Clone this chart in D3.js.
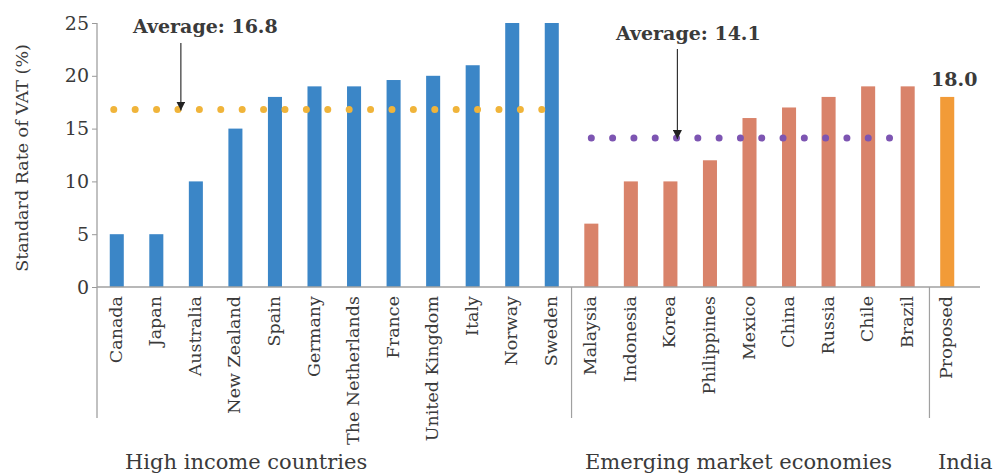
<!DOCTYPE html>
<html>
<head>
<meta charset="utf-8">
<script src="https://cdn.jsdelivr.net/npm/d3@7/dist/d3.min.js"></script>
<style>
  html, body { margin: 0; padding: 0; background: #fff; }
  svg { display: block; }
  text { font-family: "DejaVu Serif", "Liberation Serif", serif; fill: #3a3a3a; }
</style>
</head>
<body>
<svg id="chart" width="1000" height="475"></svg>
<script>
// Standard VAT rates (%) by country group
const highIncome = ["Canada", "Japan", "Australia", "New Zealand", "Spain", "Germany",
  "The Netherlands", "France", "United Kingdom", "Italy", "Norway", "Sweden"];
const highIncomeRates = [5, 5, 10, 15, 18, 19, 19, 19.6, 20, 21, 25, 25];

const emerging = ["Malaysia", "Indonesia", "Korea", "Philippines", "Mexico", "China",
  "Russia", "Chile", "Brazil"];
const emergingRates = [6, 10, 10, 12, 16, 17, 18, 19, 19];

const india = ["Proposed"];
const indiaRates = [18.0];

const groupNames = ["High income countries", "Emerging market economies", "India"];
const averages = [16.8, 14.1];
const yTicks = [0, 5, 10, 15, 20, 25];

const colors = { high: "#3b86c7", emerging: "#d9836a", india: "#f29b38",
  avgHigh: "#f0b43a", avgEmerging: "#7d55b2" };

const rows = [
  ...highIncome.map((c, i) => ({ cat: c, value: highIncomeRates[i], group: "high" })),
  ...emerging.map((c, i) => ({ cat: c, value: emergingRates[i], group: "emerging" })),
  ...india.map((c, i) => ({ cat: c, value: indiaRates[i], group: "india" }))
];

const svg = d3.select("#chart");
const plotLeft = 97, plotRight = 967, plotTop = 23, plotBottom = 287;

const x = d3.scaleBand().domain(rows.map(d => d.cat)).range([plotLeft, plotRight])
  .paddingInner(0.645).paddingOuter(0.3225);
const y = d3.scaleLinear().domain([0, 25]).range([plotBottom, plotTop]);
const bw = x.bandwidth();
const cx = c => x(c) + bw / 2;

// Bars
svg.append("g").selectAll("rect").data(rows).join("rect")
  .attr("x", d => x(d.cat)).attr("width", bw)
  .attr("y", d => y(d.value)).attr("height", d => y(0) - y(d.value))
  .attr("fill", d => colors[d.group]);

// Y axis
const yAxis = svg.append("g").attr("transform", `translate(${plotLeft},0)`)
  .call(d3.axisLeft(y).tickValues(yTicks).tickSize(5).tickPadding(3));
yAxis.select(".domain").remove();
yAxis.selectAll(".tick line").attr("stroke", "#999");
yAxis.selectAll(".tick text").attr("font-family", "DejaVu Serif").attr("font-size", 19)
  .attr("fill", "#444");

const axisColor = "#a0a0a0";
// vertical axis line continues down as the first group divider
svg.append("line").attr("x1", plotLeft).attr("x2", plotLeft).attr("y1", y(25)).attr("y2", 418)
  .attr("stroke", axisColor).attr("stroke-width", 1.3);
// baseline
svg.append("line").attr("x1", plotLeft).attr("x2", 980).attr("y1", y(0)).attr("y2", y(0))
  .attr("stroke", axisColor).attr("stroke-width", 1.3);

// Group dividers
const dividers = [
  (cx("Sweden") + cx("Malaysia")) / 2,
  (cx("Brazil") + cx("Proposed")) / 2 + 2
];
svg.append("g").selectAll("line").data(dividers).join("line")
  .attr("x1", d => d).attr("x2", d => d).attr("y1", y(0)).attr("y2", 418)
  .attr("stroke", axisColor).attr("stroke-width", 1.2);

// Category labels
svg.append("g").selectAll("text").data(rows).join("text")
  .attr("transform", d => `translate(${cx(d.cat) + 5},${y(0) + 9}) rotate(-90)`)
  .attr("text-anchor", "end")
  .attr("font-size", 17.5)
  .attr("fill", "#3c3c3c")
  .text(d => d.cat);

// Group labels
const groupLabelX = [125, 585, 938];
svg.append("g").selectAll("text").data(groupNames).join("text")
  .attr("x", (d, i) => groupLabelX[i]).attr("y", 469)
  .attr("font-size", 21).attr("fill", "#3c3c3c")
  .text(d => d);

// Y axis title
svg.append("text")
  .attr("transform", `translate(28,${(y(25) + y(0)) / 2 + 3}) rotate(-90)`)
  .attr("text-anchor", "middle").attr("font-size", 17.5).attr("fill", "#555")
  .text("Standard Rate of VAT (%)");

// Average dotted lines
const avgLines = [
  { value: averages[0], x1: cx("Canada") - 3, x2: cx("Sweden") - 6, color: colors.avgHigh, gap: 21.4 },
  { value: averages[1], x1: cx("Malaysia"), x2: cx("Brazil") - 18, color: colors.avgEmerging, gap: 21.3 }
];
svg.append("g").selectAll("line").data(avgLines).join("line")
  .attr("x1", d => d.x1).attr("x2", d => d.x2 + 0.5)
  .attr("y1", d => y(d.value)).attr("y2", d => y(d.value))
  .attr("stroke", d => d.color).attr("stroke-width", 7)
  .attr("stroke-linecap", "round")
  .attr("stroke-dasharray", d => `0 ${d.gap}`);

// Arrow marker
svg.append("defs").append("marker")
  .attr("id", "arrow").attr("viewBox", "0 0 10 10")
  .attr("refX", 10).attr("refY", 5).attr("markerWidth", 9).attr("markerHeight", 9)
  .attr("markerUnits", "userSpaceOnUse").attr("orient", "auto")
  .append("path").attr("d", "M0,0 L10,5 L0,10 Z").attr("fill", "#222");

// Average annotations
const avgNotes = [
  { text: "Average: " + averages[0].toFixed(1), tx: 133, ty: 33, ax: cx("Australia") - 15, ay1: 43, value: averages[0] },
  { text: "Average: " + averages[1].toFixed(1), tx: 616, ty: 40, ax: cx("Korea") + 7, ay1: 49, value: averages[1] }
];
const notes = svg.append("g");
notes.selectAll("text").data(avgNotes).join("text")
  .attr("x", d => d.tx).attr("y", d => d.ty)
  .attr("font-size", 19).attr("font-weight", "bold").attr("fill", "#444")
  .text(d => d.text);
notes.selectAll("line").data(avgNotes).join("line")
  .attr("x1", d => d.ax).attr("x2", d => d.ax)
  .attr("y1", d => d.ay1).attr("y2", d => y(d.value) + 1)
  .attr("stroke", "#333").attr("stroke-width", 1.2)
  .attr("marker-end", "url(#arrow)");

// Value label on the proposed rate
svg.append("text")
  .attr("x", cx("Proposed") + 7).attr("y", y(indiaRates[0]) - 11)
  .attr("text-anchor", "middle").attr("font-size", 19).attr("font-weight", "bold").attr("fill", "#444")
  .text(indiaRates[0].toFixed(1));
</script>
</body>
</html>
